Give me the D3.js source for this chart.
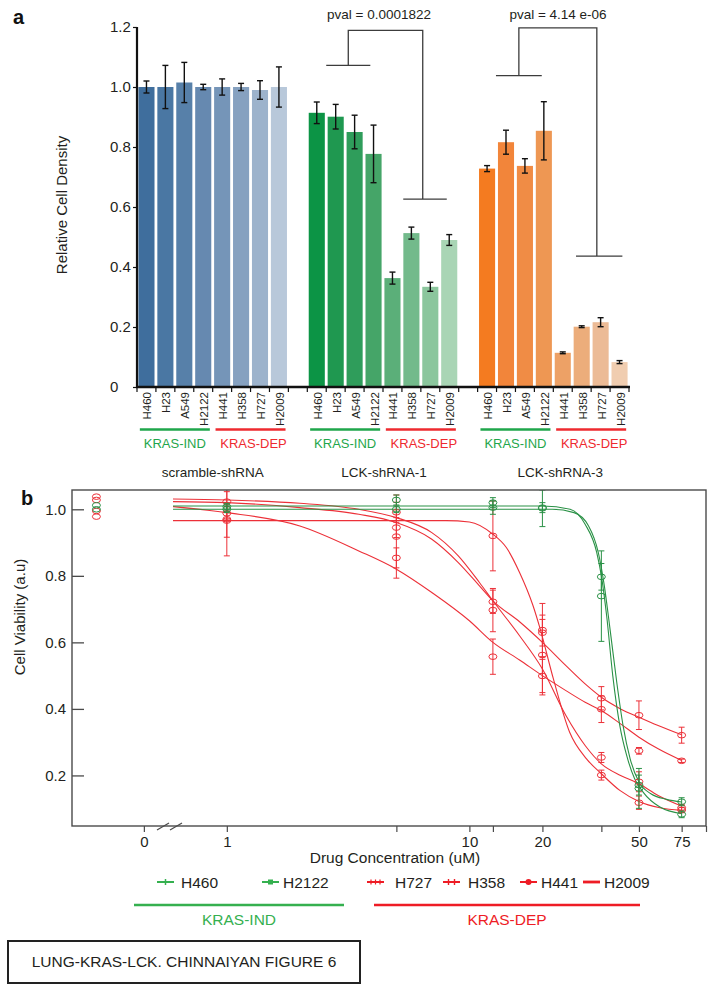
<!DOCTYPE html>
<html><head><meta charset="utf-8">
<script src="https://cdn.jsdelivr.net/npm/d3@7"></script>
<style>body{margin:0;background:#fff}svg{display:block}</style>
</head><body><svg id="c" width="714" height="992"></svg>
<script>
// ---------------- DATA: panel a ----------------
const cellLines = ["H460","H23","A549","H2122","H441","H358","H727","H2009"];
const conditions = ["scramble-shRNA","LCK-shRNA-1","LCK-shRNA-3"];
const scrambleMean = [1.0, 1.0, 1.015, 1.0, 1.0, 1.0, 0.99, 1.0];
const scrambleErr  = [0.02, 0.072, 0.067, 0.009, 0.027, 0.012, 0.031, 0.067];
const lck1Mean = [0.914, 0.901, 0.85, 0.777, 0.363, 0.513, 0.334, 0.49];
const lck1Err  = [0.036, 0.041, 0.056, 0.096, 0.02, 0.02, 0.015, 0.018];
const lck3Mean = [0.728, 0.816, 0.737, 0.854, 0.114, 0.201, 0.216, 0.083];
const lck3Err  = [0.01, 0.04, 0.024, 0.097, 0.003, 0.003, 0.015, 0.005];
const yTicksA = [0, 0.2, 0.4, 0.6, 0.8, 1.0, 1.2];
const groupLabels = ["KRAS-IND","KRAS-DEP"];
const pvalLabels = ["pval = 0.0001822","pval = 4.14 e-06"];
const bracketLevels = [ // lower-left, top, lower-right (relative cell density units)
  [1.072, 1.189, 0.626],
  [1.038, 1.197, 0.436]
];

// ---------------- DATA: panel b ----------------
const concs = [1, 5, 12.5, 20, 35, 50, 75];
const seriesNames = ["H460","H2122","H727","H358","H441","H2009"];
const seriesKras  = ["IND","IND","DEP","DEP","DEP","DEP"];
const ctrlVals = [1.012, 1.0, 1.038, 1.028, 0.995, 0.978];
const valH460  = [1.008, 1.028, 1.02, 1.005, 0.797, 0.171, 0.083];
const errH460  = [0.01, 0.015, 0.015, 0.015, 0.04, 0.03, 0.01];
const valH2122 = [1.0, 1.0, 1.005, 1.003, 0.739, 0.161, 0.121];
const errH2122 = [0.01, 0.01, 0.02, 0.055, 0.136, 0.06, 0.012];
const valH727  = [1.023, 0.991, 0.722, 0.562, 0.254, 0.181, 0.103];
const errH727  = [0.03, 0.03, 0.035, 0.12, 0.015, 0.03, 0.01];
const valH358  = [0.988, 0.945, 0.697, 0.629, 0.432, 0.381, 0.321];
const errH358  = [0.02, 0.03, 0.065, 0.04, 0.035, 0.043, 0.024];
const valH441  = [0.97, 0.854, 0.557, 0.499, 0.399, 0.274, 0.244];
const errH441  = [0.11, 0.03, 0.053, 0.05, 0.04, 0.01, 0.005];
const valH2009 = [0.966, 0.918, 0.92, 0.637, 0.201, 0.118, 0.096];
const errH2009 = [0.05, 0.125, 0.105, 0.08, 0.015, 0.02, 0.008];
// fitted dose-response curves as [concentration, viability]
const fitH460  = [[0.6,1.01],[20,1.01],[26,1.0],[30,0.955],[33.5,0.87],[35,0.80],[36.8,0.68],[39,0.50],[41.7,0.35],[44.5,0.26],[48,0.19],[52,0.15],[61,0.105],[75,0.085]];
const fitH2122 = [[0.6,1.0],[22,1.0],[27,0.99],[31,0.95],[34,0.87],[36,0.77],[38,0.64],[40.5,0.48],[43,0.35],[46,0.25],[50,0.18],[56,0.145],[65,0.128],[75,0.12]];
const fitH727  = [[0.6,1.031],[1,1.028],[2,1.018],[3.5,1.0],[5,0.975],[7,0.93],[9,0.86],[11,0.78],[12.5,0.725],[16.1,0.62],[20,0.52],[25,0.38],[30,0.29],[35,0.235],[42,0.2],[50,0.175],[60,0.14],[75,0.108]];
const fitH358  = [[0.6,1.023],[1,1.02],[2,1.005],[3.5,0.985],[5,0.96],[7,0.91],[9,0.84],[11,0.77],[12.5,0.725],[16.1,0.662],[20,0.6],[25,0.53],[30,0.475],[35,0.435],[42,0.4],[50,0.375],[60,0.35],[75,0.322]];
const fitH441  = [[0.6,1.008],[1,0.99],[2,0.95],[3.5,0.875],[5,0.82],[7,0.75],[10,0.665],[12.5,0.6],[16.1,0.547],[20,0.5],[25,0.455],[30,0.42],[35,0.395],[42,0.355],[50,0.315],[60,0.28],[75,0.245]];
const fitH2009 = [[0.6,0.966],[8,0.966],[10,0.962],[12.5,0.925],[14.2,0.885],[16.1,0.81],[18.3,0.71],[19.5,0.645],[22.2,0.49],[25.9,0.33],[30.4,0.25],[35,0.205],[41.7,0.155],[50,0.122],[61,0.103],[75,0.095]];
const yTicksB = [0.2, 0.4, 0.6, 0.8, 1.0];
const xTicksB = [1, 5, 10, 12.5, 20, 35, 50, 75];
const xTickLabelsB = ["1", "", "10", "", "20", "", "50", "75"];
const footnote = "LUNG-KRAS-LCK. CHINNAIYAN FIGURE 6";

// ---------------- STYLE ----------------
const FONT = "Arial, 'Liberation Sans', sans-serif";
const TXT = "#231f20";
const GREEN = "#1fa64b", RED = "#ee2a2f";
const barColors = [
  ["#3f6e9d","#4a77a3","#5780a9","#6689b0","#7595b8","#86a1c0","#9db3cc","#b8c8da"],
  ["#0c9445","#1f9850","#2f9d5b","#45a568","#5baf79","#73ba8b","#8bc69d","#a9d5b5"],
  ["#f47b20","#f2853a","#f08c45","#ee9753","#eda166","#ecad7b","#ecbb96","#f0cdb0"]
];
const lineGreen = "#2a9146", lineRed = "#ec3038";

const svg = d3.select("#c");
svg.append("rect").attr("width",714).attr("height",992).attr("fill","#fff");

// ================= PANEL A =================
const ga = svg.append("g");
const slots = [];
conditions.forEach((c, gi) => {
  cellLines.forEach(l => slots.push(gi + "|" + l));
  if (gi < conditions.length - 1) slots.push("gap" + gi);
});
const xa = d3.scaleBand().domain(slots).range([137, 629]).paddingInner(0.15).paddingOuter(0.075);
const step = xa.step();
const slotX = i => 137 + i * step;
const ya = d3.scaleLinear().domain([0, 1.2]).range([387, 27]);
const means = [scrambleMean, lck1Mean, lck3Mean];
const errs = [scrambleErr, lck1Err, lck3Err];
const barData = [];
conditions.forEach((c, gi) => cellLines.forEach((l, li) => barData.push({
  key: gi + "|" + l, gi, li, v: means[gi][li], e: errs[gi][li]
})));

ga.selectAll("rect.bar").data(barData).enter().append("rect")
  .attr("x", d => xa(d.key)).attr("width", xa.bandwidth())
  .attr("y", d => ya(d.v)).attr("height", d => ya(0) - ya(d.v))
  .attr("fill", d => barColors[d.gi][d.li]);

// error bars
const eb = ga.selectAll("g.eb").data(barData).enter().append("g")
  .attr("stroke", "#111").attr("stroke-width", 1.4);
eb.append("line").attr("x1", d => xa(d.key) + xa.bandwidth()/2).attr("x2", d => xa(d.key) + xa.bandwidth()/2)
  .attr("y1", d => ya(d.v + d.e)).attr("y2", d => ya(d.v - d.e));
eb.append("line").attr("x1", d => xa(d.key) + xa.bandwidth()/2 - 3).attr("x2", d => xa(d.key) + xa.bandwidth()/2 + 3)
  .attr("y1", d => ya(d.v + d.e)).attr("y2", d => ya(d.v + d.e));
eb.append("line").attr("x1", d => xa(d.key) + xa.bandwidth()/2 - 3).attr("x2", d => xa(d.key) + xa.bandwidth()/2 + 3)
  .attr("y1", d => ya(d.v - d.e)).attr("y2", d => ya(d.v - d.e));

// y axis
const yAxA = ga.append("g").attr("transform", "translate(137,0)")
  .call(d3.axisLeft(ya).tickValues(yTicksA).tickSize(4).tickFormat(d => d === 0 ? "0" : d3.format(".1f")(d)));
yAxA.select(".domain").remove();
yAxA.selectAll(".tick line").attr("stroke", "#111").attr("stroke-width", 1.2);
yAxA.selectAll(".tick text").attr("x", -27).attr("text-anchor", "start")
  .attr("font-family", FONT).attr("font-size", 15).attr("fill", TXT);
ga.append("line").attr("x1", 137).attr("x2", 137).attr("y1", ya(1.2)).attr("y2", ya(0) + 1)
  .attr("stroke", "#111").attr("stroke-width", 2.2);
// x axis
ga.append("line").attr("x1", 136).attr("x2", slotX(slots.length) + 1).attr("y1", ya(0)).attr("y2", ya(0))
  .attr("stroke", "#111").attr("stroke-width", 2.5);
ga.selectAll("line.xt").data(d3.range(slots.length + 1)).enter().append("line")
  .attr("x1", i => slotX(i)).attr("x2", i => slotX(i)).attr("y1", ya(0)).attr("y2", ya(0) + 5)
  .attr("stroke", "#111").attr("stroke-width", 1.2);
ga.selectAll("text.xl").data(barData).enter().append("text")
  .attr("transform", d => `translate(${xa(d.key) + xa.bandwidth()/2 + 1},392) rotate(-90)`)
  .attr("text-anchor", "end").attr("dominant-baseline", "central")
  .attr("font-family", FONT).attr("font-size", 11.5).attr("fill", TXT)
  .text(d => cellLines[d.li]);
ga.append("text").attr("transform", "translate(67,205) rotate(-90)").attr("text-anchor", "middle")
  .attr("font-family", FONT).attr("font-size", 15).attr("fill", TXT).text("Relative Cell Density");
ga.append("text").attr("x", 13).attr("y", 24).attr("font-family", FONT).attr("font-weight", "bold")
  .attr("font-size", 20).attr("fill", "#111").text("a");

// KRAS group labels under each condition
conditions.forEach((c, gi) => {
  groupLabels.forEach((lab, k) => {
    const s0 = gi * 9 + k * 4, s1 = s0 + 4;
    const cx = (slotX(s0) + slotX(s1)) / 2;
    const col = k === 0 ? GREEN : RED;
    ga.append("line").attr("x1", cx - 35).attr("x2", cx + 35).attr("y1", 429.5).attr("y2", 429.5)
      .attr("stroke", col).attr("stroke-width", 2.5);
    ga.append("text").attr("x", cx + (k ? 3 : 0)).attr("y", 448).attr("text-anchor", "middle")
      .attr("font-family", FONT).attr("font-size", 13).attr("fill", col).text(lab);
  });
});

// p-value brackets (slot offsets within group)
const bracketSlots = [
  {base: 9, l0: 1.0, l1: 3.33, r0: 5.07, r1: 7.37, rv: 6.1, lab: 3.79},
  {base: 18, l0: 0.97, l1: 3.39, r0: 5.2, r1: 7.65, rv: 6.3, lab: 4.25}
];
bracketSlots.forEach((b, i) => {
  const [ly, ty, ry] = bracketLevels[i];
  const lx0 = slotX(b.base + b.l0), lx1 = slotX(b.base + b.l1), lm = (lx0 + lx1) / 2;
  const rx0 = slotX(b.base + b.r0), rx1 = slotX(b.base + b.r1), rm = slotX(b.base + b.rv);
  const p = d3.path();
  p.moveTo(lx0, ya(ly)); p.lineTo(lx1, ya(ly));
  p.moveTo(lm, ya(ly)); p.lineTo(lm, ya(ty)); p.lineTo(rm, ya(ty)); p.lineTo(rm, ya(ry));
  p.moveTo(rx0, ya(ry)); p.lineTo(rx1, ya(ry));
  ga.append("path").attr("d", p.toString()).attr("fill", "none").attr("stroke", "#3c3c3c").attr("stroke-width", 1.3);
  ga.append("text").attr("x", slotX(b.base + b.lab)).attr("y", 19).attr("text-anchor", "middle")
    .attr("font-family", FONT).attr("font-size", 13.5).attr("fill", TXT).text(pvalLabels[i]);
});

// ================= PANEL B =================
const gb = svg.append("g");
const xb = d3.scaleLog().domain([0.23, 94.5]).range([72, 706]);
const yb = d3.scaleLinear().domain([0.048, 1.058]).range([826, 490]);
const ctrlPos = 0.29, zeroTickPos = 0.455;

// condition titles
conditions.forEach((c, gi) => {
  const cx = (slotX(gi * 9) + slotX(gi * 9 + 8)) / 2 + (gi === 2 ? 7 : gi === 1 ? 1 : 0);
  gb.append("text").attr("x", cx).attr("y", 477).attr("text-anchor", "middle")
    .attr("font-family", FONT).attr("font-size", 13.5).attr("fill", TXT).text(c);
});
gb.append("text").attr("x", 21).attr("y", 505).attr("font-family", FONT).attr("font-weight", "bold")
  .attr("font-size", 20).attr("fill", "#111").text("b");

const clip = svg.append("defs").append("clipPath").attr("id", "pb");
clip.append("rect").attr("x", 72).attr("y", 490).attr("width", 634).attr("height", 336);

const series = [
  {name: "H460", vals: valH460, errs: errH460, fit: fitH460},
  {name: "H2122", vals: valH2122, errs: errH2122, fit: fitH2122},
  {name: "H727", vals: valH727, errs: errH727, fit: fitH727},
  {name: "H358", vals: valH358, errs: errH358, fit: fitH358},
  {name: "H441", vals: valH441, errs: errH441, fit: fitH441},
  {name: "H2009", vals: valH2009, errs: errH2009, fit: fitH2009}
].map((s, i) => Object.assign(s, {color: seriesKras[i] === "IND" ? lineGreen : lineRed, ctrl: ctrlVals[i]}));

const plot = gb.append("g").attr("clip-path", "url(#pb)");
const line = d3.line().x(d => xb(d[0])).y(d => yb(d[1])).curve(d3.curveMonotoneX);
// draw red first, green on top
const order = [2, 3, 4, 5, 0, 1];
order.forEach(i => {
  const s = series[i];
  plot.append("path").attr("d", line(s.fit)).attr("fill", "none").attr("stroke", s.color).attr("stroke-width", 1.1);
});
order.forEach(i => {
  const s = series[i];
  const pts = concs.map((c, k) => ({c, v: s.vals[k], e: s.errs[k]}));
  const g = plot.append("g").attr("stroke", s.color).attr("fill", "none").attr("stroke-width", 1);
  g.selectAll("line.v").data(pts).enter().append("line")
    .attr("x1", d => xb(d.c)).attr("x2", d => xb(d.c)).attr("y1", d => yb(d.v + d.e)).attr("y2", d => yb(d.v - d.e));
  g.selectAll("line.t").data(pts).enter().append("line")
    .attr("x1", d => xb(d.c) - 3).attr("x2", d => xb(d.c) + 3).attr("y1", d => yb(d.v + d.e)).attr("y2", d => yb(d.v + d.e));
  g.selectAll("line.b").data(pts).enter().append("line")
    .attr("x1", d => xb(d.c) - 3).attr("x2", d => xb(d.c) + 3).attr("y1", d => yb(d.v - d.e)).attr("y2", d => yb(d.v - d.e));
  g.selectAll("ellipse").data(pts).enter().append("ellipse")
    .attr("cx", d => xb(d.c)).attr("cy", d => yb(d.v)).attr("rx", 4).attr("ry", 2.8);
  g.append("ellipse").attr("cx", xb(ctrlPos)).attr("cy", yb(s.ctrl)).attr("rx", 4).attr("ry", 2.8);
});

// box
gb.append("rect").attr("x", 72).attr("y", 490).attr("width", 634).attr("height", 336)
  .attr("fill", "none").attr("stroke", "#4a4a4a").attr("stroke-width", 1.4);
// y axis
const yAxB = gb.append("g").attr("transform", "translate(72,0)")
  .call(d3.axisLeft(yb).tickValues(yTicksB).tickSizeInner(-12).tickSizeOuter(0).tickPadding(6).tickFormat(d3.format(".1f")));
yAxB.select(".domain").remove();
yAxB.selectAll(".tick line").attr("stroke", "#4a4a4a").attr("stroke-width", 1.3);
yAxB.selectAll(".tick text").attr("x", -6).attr("font-family", FONT).attr("font-size", 15).attr("fill", TXT);
gb.append("text").attr("transform", "translate(25,617) rotate(-90)").attr("text-anchor", "middle")
  .attr("font-family", FONT).attr("font-size", 15).attr("fill", TXT).text("Cell Viability (a.u)");
// x axis
const xAxB = gb.append("g").attr("transform", "translate(0,826)")
  .call(d3.axisBottom(xb).tickValues([zeroTickPos, ...xTicksB, 94.5]).tickSize(6).tickPadding(4)
    .tickFormat(d => d === zeroTickPos ? "0" : (xTicksB.indexOf(d) >= 0 ? xTickLabelsB[xTicksB.indexOf(d)] : "")));
xAxB.select(".domain").remove();
xAxB.selectAll(".tick line").attr("stroke", "#4a4a4a").attr("stroke-width", 1.2);
xAxB.selectAll(".tick text").attr("font-family", FONT).attr("font-size", 15).attr("fill", TXT);
// axis break marks
[[157, 169], [170, 182]].forEach(([a, b]) => {
  gb.append("line").attr("x1", a).attr("y1", 830).attr("x2", b).attr("y2", 823)
    .attr("stroke", "#4a4a4a").attr("stroke-width", 1.2);
});
gb.append("text").attr("x", 395).attr("y", 863).attr("text-anchor", "middle")
  .attr("font-family", FONT).attr("font-size", 15.5).attr("fill", TXT).text("Drug Concentration (uM)");

// legend
const legendX = [157, 262, 367, 443, 520, 583];
const legendTextX = [181, 283, 395, 468, 541, 604];
const legCol = i => seriesKras[i] === "IND" ? "#35b04f" : "#ee1c25";
series.forEach((s, i) => {
  const x0 = legendX[i], x1 = x0 + 17, y = 882, c = legCol(i);
  const g = gb.append("g").attr("stroke", c).attr("fill", c);
  g.append("line").attr("x1", x0).attr("x2", x1).attr("y1", y).attr("y2", y).attr("stroke-width", i === 5 ? 2.8 : 2);
  const mid = (x0 + x1) / 2;
  if (i === 0) g.append("line").attr("x1", mid).attr("x2", mid).attr("y1", y - 3).attr("y2", y + 3).attr("stroke-width", 1.5);
  if (i === 1) g.append("rect").attr("x", mid - 2.5).attr("y", y - 2.5).attr("width", 5).attr("height", 5).attr("stroke", "none");
  if (i === 2) [x0 + 4, mid, x1 - 4].forEach(x => g.append("line").attr("x1", x).attr("x2", x).attr("y1", y - 2.5).attr("y2", y + 2.5).attr("stroke-width", 1.2));
  if (i === 3) [mid - 3, mid + 3].forEach(x => g.append("line").attr("x1", x).attr("x2", x).attr("y1", y - 3).attr("y2", y + 3).attr("stroke-width", 1.4));
  if (i === 4) g.append("circle").attr("cx", mid).attr("cy", y).attr("r", 3).attr("stroke", "none");
  gb.append("text").attr("x", legendTextX[i]).attr("y", 888).attr("font-family", FONT).attr("font-size", 15.5)
    .attr("fill", TXT).text(s.name);
});
// KRAS group lines under legend
[[134, 344, "KRAS-IND", "#35b04f"], [374, 640, "KRAS-DEP", "#ee1c25"]].forEach(([a, b, t, c]) => {
  gb.append("line").attr("x1", a).attr("x2", b).attr("y1", 905).attr("y2", 905).attr("stroke", c).attr("stroke-width", 2.5);
  gb.append("text").attr("x", (a + b) / 2).attr("y", 925).attr("text-anchor", "middle")
    .attr("font-family", FONT).attr("font-size", 15.5).attr("fill", c).text(t);
});
// footnote box
svg.append("rect").attr("x", 8).attr("y", 941).attr("width", 352).attr("height", 42)
  .attr("fill", "none").attr("stroke", "#222").attr("stroke-width", 2);
svg.append("text").attr("x", 184).attr("y", 967).attr("text-anchor", "middle")
  .attr("font-family", FONT).attr("font-size", 15.5).attr("fill", TXT).text(footnote);
</script></body></html>
